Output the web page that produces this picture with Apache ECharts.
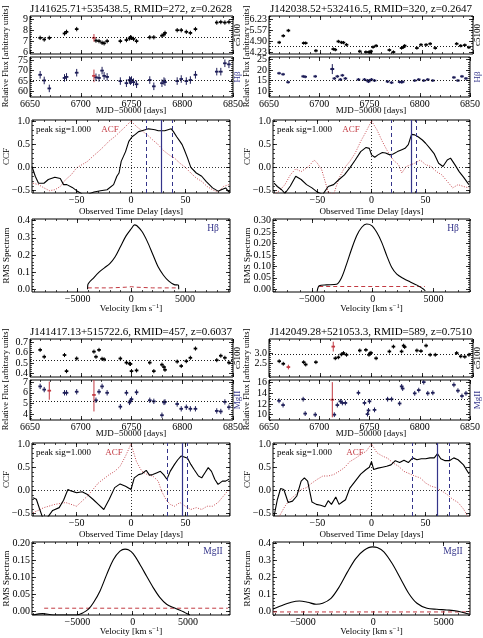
<!DOCTYPE html>
<html>
<head>
<meta charset="utf-8">
<script src="https://cdn.jsdelivr.net/npm/echarts@6/dist/echarts.min.js"></script>
<style>
  html, body { margin: 0; padding: 0; background: #fff; }
  #main { width: 483px; height: 638px; }
</style>
</head>
<body>
<div id="main"></div>
<script>
// ---- names ----
var qsoName = ['J141625.71+535438.5, RMID=272, z=0.2628', 'J142038.52+532416.5, RMID=320, z=0.2647',
               'J141417.13+515722.6, RMID=457, z=0.6037', 'J142049.28+521053.3, RMID=589, z=0.7510'];
var lineName = ['H\u03b2', 'H\u03b2', 'MgII', 'MgII'];

// ---- light curves (MJD-50000) ----
var mjd = [6660, 6664, 6669, 6684, 6686, 6696, 6713, 6715, 6718, 6721, 6723, 6726, 6739, 6745, 6748, 6749, 6750,
           6752, 6755, 6768, 6772, 6780, 6782, 6783, 6795, 6799, 6804, 6808, 6813, 6834, 6838, 6842, 6846];

var cont272 = [7.3, 7.15, 7.3, 7.7, 7.85, 8.1, null, 7.05, 7.0, 6.85, 6.8, 7.0, 7.0, 7.1, 7.25, 7.35, 7.3,
               7.2, 7.0, 7.35, 7.35, 7.5, 7.6, 7.75, 8.0, 8.0, 7.85, 7.75, 8.1, 8.7, 8.75, 8.7, 8.75];
var line272 = [68, 65.3, 61.5, 66.5, 67, 69, null, 66.8, 66.5, 70, 67.5, 67, 65, 64, 65.5, 65, 65.5,
               64.5, 63.5, 65.5, 62.5, 64, 65, 64.5, 65, 66, 65, 65.5, 68, 69.5, 69.5, 73.5, 73];
var cont320 = [4.81, 5.21, 5.53, 4.77, 4.77, 4.31, 4.41, 4.37, 4.87, 4.81, 4.80, 4.67, 4.27, 4.23, 4.23, 4.21, 4.27,
               4.53, 4.61, 4.35, 4.23, 4.47, 4.53, 4.61, 4.47, 4.67, 4.67, 4.73, 4.47, 4.73, 4.61, 4.65, 4.51];
var line320 = [18.5, 18, 14.2, 17, 16.8, 17, 20.5, 16, 17, 15.5, 17.5, 16, 15.5, 15.5, 15, 14.5, 15,
               15.5, 15, 14.5, 14, 14.3, 14.2, 14.4, 15, 15.5, 15, 15.5, 15, 16.5, 15, 17, 16];
var cont457 = [0.627, 0.56, null, 0.577, 0.42, 0.543, 0.61, 0.56, 0.627, 0.54, 0.535, null, 0.543, 0.503, 0.493, 0.49, 0.42,
               null, 0.427, 0.503, 0.42, 0.483, 0.46, 0.433, 0.513, 0.47, 0.517, 0.55, 0.64, 0.527, 0.57, 0.55, 0.503];
var line457 = [6.6, 6.3, null, 6.0, 6.0, 6.1, null, 5.3, 6.1, 6.6, null, 6.0, 4.7, 6.0, 5.1, 5.25, 5.4,
               null, 6.05, 5.3, 5.2, 3.9, 5.1, 5.15, 4.95, 4.5, 4.65, 4.5, 4.5, 4.3, 4.25, 5.15, 4.65];
var cont589 = [2.6, 2.47, null, 2.55, 2.43, 2.55, null, 2.75, 2.8, 2.95, 3.02, 2.93, 3.15, 3.18, 2.93, 3.0, 3.03,
               null, 2.75, 3.1, 3.35, 3.1, 3.4, 3.33, 3.15, 3.12, 3.4, 2.93, 2.93, 3.02, 2.85, 2.83, 2.93];
var line589 = [12.6, 11.8, null, 12.9, 10.2, 10.0, null, 10.0, 11.8, 12.5, 12.2, 12.2, 14.1, 12.2, 10.1, 10.8, 12.5,
               null, 10.9, 12.9, 12.9, 12.1, 15.3, 14.9, 14.0, 14.6, 16.1, 14.0, 14.1, 15.6, 14.5, 13.5, 14.0];

// typical error of each light curve
var errCont = [0.2, 0.1, 0.02, 0.1];
var errLine = [1.8, 0.7, 0.25, 0.45];
var lcMeanCont = [7.36, 4.57, 0.527, 2.97];
var lcMeanLine = [65.5, 15.0, 5.25, 12.9];

// flagged epochs [mjd, flux, err]
var flagCont272 = [[6713, 7.3, 0.35]];
var flagLine272 = [[6713, 67.5, 3.0]];
var wideLine320 = [[6713, 20.5, 2.4]];
var flagLine457 = [[6669, 6.2, 0.85], [6713, 5.8, 1.55]];
var flagCont589 = [[6669, 2.3, 0.12], [6713, 3.35, 0.25]];
var flagLine589 = [[6713, 12.8, 3.3]];

// ---- CCF / ACF ----
var ccfLag272 = [-91, -88, -85, -80, -76, -70, -65, -62, -59, -54, -50, -45, -40, -34, -28, -22, -16, -13, -11, -9, -5, -2, 1, 4, 7, 10,
                 13, 16, 19, 22, 25, 28, 31, 34, 37, 39, 42, 45, 47, 49, 52, 55, 60, 65, 69, 75, 80, 83, 87, 90];
var ccf272 = [0.02, -0.19, -0.34, -0.34, -0.26, -0.21, -0.24, -0.37, -0.37, -0.43, -0.5, -0.57, -0.58, -0.53, -0.5, -0.48, -0.37, -0.19,
              -0.12, 0.13, 0.34, 0.56, 0.66, 0.71, 0.77, 0.79, 0.81, 0.83, 0.82, 0.81, 0.79, 0.79, 0.79, 0.81, 0.83, 0.77, 0.66, 0.56,
              0.49, 0.38, 0.2, 0.0, -0.12, -0.19, -0.3, -0.44, -0.51, -0.48, -0.44, -0.53];
var acfLag272 = [-90, -85, -80, -75, -70, -65, -60, -55, -50, -45, -40, -35, -30, -25, -20, -15, -10, -5, 0, 5, 10, 15, 20, 25, 30,
                 35, 40, 45, 50, 55, 60, 65, 70, 75, 80, 85, 90];
var acf272 = [-0.34, -0.37, -0.44, -0.5, -0.48, -0.41, -0.26, -0.16, -0.01, 0.06, 0.13, 0.24, 0.34, 0.45, 0.57, 0.66, 0.77, 0.88, 1.0,
              0.88, 0.79, 0.7, 0.59, 0.49, 0.36, 0.27, 0.2, 0.09, 0.0, -0.12, -0.23, -0.3, -0.41, -0.48, -0.53, -0.41, -0.37];

var ccfLag320 = [-90, -87, -83, -80, -75, -70, -65, -60, -55, -50, -45, -40, -35, -30, -25, -20, -15, -10, -5, -2, 0, 3, 6, 10, 13,
                 17, 20, 24, 28, 31, 34, 37, 40, 43, 47, 50, 54, 58, 62, 66, 70, 73, 77, 81, 85, 90];
var ccf320 = [-0.34, -0.41, -0.48, -0.56, -0.4, -0.19, -0.26, -0.37, -0.44, -0.53, -0.58, -0.41, -0.37, -0.26, -0.16, -0.01, 0.16,
              0.34, 0.43, 0.41, 0.27, 0.22, 0.27, 0.32, 0.31, 0.27, 0.29, 0.34, 0.38, 0.41, 0.49, 0.71, 0.7, 0.66, 0.59, 0.52, 0.41,
              0.29, 0.09, 0.02, 0.16, 0.2, 0.06, -0.09, -0.21, -0.37];
var acfLag320 = [-90, -85, -80, -75, -70, -65, -58, -53, -50, -46, -40, -35, -30, -25, -20, -15, -10, -5, 0, 5, 10, 15, 20, 25, 28,
                 32, 40, 45, 50, 55, 60, 65, 70, 75, 80, 85, 90];
var acf320 = [-0.58, -0.5, -0.37, -0.16, -0.03, -0.09, 0.02, 0.16, 0.09, -0.05, -0.53, -0.58, -0.23, -0.01, 0.13, 0.31, 0.56, 0.77, 1.0,
              0.81, 0.56, 0.34, 0.16, 0.06, -0.12, 0.02, 0.09, 0.16, 0.06, 0.02, -0.09, -0.16, -0.3, -0.44, -0.37, -0.41, -0.44];

var ccfLag457 = [-90, -87, -84, -81, -77, -72, -66, -62, -58, -55, -50, -45, -40, -35, -30, -25, -20, -15, -10, -5, 0, 3, 7, 10, 14,
                 17, 20, 24, 27, 30, 33, 36, 40, 43, 46, 49, 52, 55, 58, 62, 65, 68, 71, 74, 77, 80, 84, 87, 90];
var ccf457 = [-0.16, -0.19, -0.4, -0.6, -0.59, -0.43, -0.37, -0.21, 0.02, -0.01, -0.05, -0.03, -0.09, -0.19, -0.3, -0.41, -0.19, 0.06,
              0.14, 0.09, 0.02, 0.27, 0.34, 0.36, 0.43, 0.33, 0.34, 0.38, 0.41, 0.34, 0.24, 0.41, 0.56, 0.66, 0.74, 0.72, 0.69, 0.56,
              0.45, 0.31, 0.27, 0.38, 0.49, 0.41, 0.24, 0.13, 0.2, 0.2, 0.24];
var acfLag457 = [-90, -80, -70, -60, -50, -40, -30, -20, -15, -10, -5, 0, 5, 10, 15, 20, 25, 28, 32, 36, 40, 45, 50, 55, 60, 65, 70,
                 75, 80, 85, 90];
var acf457 = [-0.48, -0.37, -0.3, -0.26, -0.34, -0.12, 0.16, 0.34, 0.41, 0.52, 0.74, 1.0, 0.62, 0.41, 0.34, 0.31, 0.2, -0.01, -0.19,
              -0.3, -0.34, -0.26, -0.34, -0.41, -0.37, -0.41, -0.34, -0.34, -0.26, -0.12, 0.02];

var ccfLag589 = [-90, -87, -84, -81, -77, -73, -69, -65, -62, -59, -55, -51, -47, -43, -40, -37, -33, -30, -27, -24, -20, -15, -10, -5,
                 -2, 0, 2, 6, 10, 14, 18, 22, 26, 30, 34, 38, 42, 46, 50, 54, 58, 61, 64, 68, 72, 76, 80, 85, 90];
var ccf589 = [-0.55, -0.2, 0.04, 0.02, -0.26, -0.23, -0.12, 0.2, 0.27, 0.2, -0.25, -0.3, -0.32, -0.35, -0.22, -0.3, -0.14, -0.3, -0.25,
              -0.2, 0.05, 0.2, 0.35, 0.45, 0.5, 0.62, 0.45, 0.48, 0.5, 0.52, 0.55, 0.64, 0.6, 0.65, 0.6, 0.7, 0.66, 0.68, 0.68, 0.7,
              0.7, 0.79, 0.68, 0.64, 0.64, 0.7, 0.66, 0.55, 0.36];
var acfLag589 = [-90, -85, -80, -75, -70, -65, -60, -55, -50, -45, -40, -35, -30, -25, -20, -15, -10, -5, 0, 5, 10, 15, 20, 25, 30,
                 35, 40, 45, 50, 55, 60, 65, 70, 75, 80, 85, 90];
var acf589 = [-0.6, -0.55, -0.34, -0.19, -0.09, 0.02, 0.06, 0.16, 0.24, 0.31, 0.31, 0.34, 0.41, 0.49, 0.62, 0.69, 0.77, 0.84, 1.0,
              0.81, 0.74, 0.69, 0.59, 0.52, 0.41, 0.36, 0.31, 0.27, 0.16, 0.09, 0.06, -0.01, -0.09, -0.19, -0.26, -0.4, -0.6];

// lag measurements [lower, centroid, upper] (days)
var lags272 = [14, 28, 38];
var lags320 = [18, 37, 41];
var lags457 = [33, 47, 52];
var lags589 = [38, 61, 72];

// ---- RMS spectra (km/s) ----
var rmsVel272 = [-4070, -4050, -3500, -3000, -2500, -2000, -1500, -1000, -500, 0, 300, 500, 1000, 1500, 2000, 2500, 3000, 3500,
                 4000, 4400, 4420];
var rms272 = [0.0, 0.025, 0.067, 0.10, 0.125, 0.15, 0.19, 0.25, 0.31, 0.353, 0.376, 0.372, 0.337, 0.278, 0.204, 0.131, 0.082,
              0.047, 0.027, 0.024, 0.0];
var errVel272 = [-4050, -2000, -500, 0, 500, 2000, 4400];
var rmsErr272 = [0.008, 0.008, 0.012, 0.015, 0.012, 0.008, 0.008];

var rmsVel320 = [-4570, -4400, -3800, -2975, -2560, -2150, -1735, -1320, -900, -500, -80, 330, 740, 1160, 1570, 1980, 2530, 3085,
                 3640, 4190, 4320];
var rms320 = [-0.01, 0.015, 0.019, 0.022, 0.051, 0.11, 0.176, 0.234, 0.271, 0.285, 0.278, 0.249, 0.205, 0.146, 0.095, 0.066, 0.047,
              0.032, 0.018, 0.0, -0.007];
var errVel320 = [-4400, 4300];
var rmsErr320 = [0.012, 0.012];

var rmsVel457 = [-9000, -8130, -7170, -5060, -4460, -4000, -3550, -2950, -2350, -1750, -1145, -690, -390, 60, 660, 1265, 1870, 2470,
                 3070, 3675, 4280, 4730, 5180];
var rms457 = [-0.012, -0.008, -0.012, -0.012, -0.005, 0.005, 0.024, 0.059, 0.107, 0.151, 0.176, 0.182, 0.18, 0.168, 0.137, 0.102,
              0.068, 0.039, 0.0195, 0.0098, 0.002, -0.005, -0.012];
var errVel457 = [-8000, 8600];
var rmsErr457 = [0.008, 0.008];

var rmsVel589 = [-7130, -6540, -5835, -5250, -4660, -4070, -3600, -3010, -2420, -1835, -1250, -660, -70, 280, 750, 1340, 1930, 2520,
                 3100, 3810, 4520, 5220, 5930, 6870];
var rms589 = [0.016, 0.035, 0.055, 0.0625, 0.055, 0.043, 0.049, 0.078, 0.146, 0.234, 0.3125, 0.361, 0.381, 0.377, 0.352, 0.283, 0.195,
              0.107, 0.049, 0.0195, 0.0137, 0.0098, 0.004, -0.016];
var errVel589 = [-7130, 6870];
var rmsErr589 = [-0.002, -0.002];

// ---- tick labels ----
var lcTicksX = [6650, 6700, 6750, 6800, 6850];
var contTicks = [[6, 7, 8, 9], [4.23, 4.90, 5.57, 6.23], [0.4, 0.5, 0.6, 0.7], [2.0, 2.5, 3.0, 3.5]];
var lineTicks = [[60, 65, 70, 75], [10, 15, 20, 25], [4, 5, 6, 7], [10, 12, 14, 16]];
var ccfTicksX = [-50, 0, 50];
var ccfTicksY = [-0.5, 0.0, 0.5, 1.0];
var rmsTicksX = [-5000, 0, 5000];
var rmsTicksY = [[0, 0.1, 0.2, 0.3, 0.4], [0, 0.05, 0.1, 0.15, 0.2, 0.25, 0.3], [0, 0.05, 0.1, 0.15, 0.2], [0, 0.1, 0.2, 0.3, 0.4]];

// ---- axis ranges ----
var contRange = [[5.82, 9.3], [4.11, 6.41], [0.363, 0.733], [1.79, 3.74]];
var lineRange = [[57.4, 76.5], [7.1, 26.3], [3.45, 7.2], [9.0, 16.5]];
var rmsRangeX = [[-9250, 9200], [-8200, 8000], [-9100, 8800], [-7130, 6870]];
var rmsRangeY = [[-0.016, 0.41], [-0.012, 0.307], [-0.012, 0.203], [-0.02, 0.41]];

var FONT = '"Liberation Serif", "DejaVu Serif", serif';
var NAVY = '#34348a';
var RED = '#c23a42';
var LINEPT = '#1e1e58';

var grids = [], xAxes = [], yAxes = [], series = [], texts = [];

// minor tick positions anchored on a major tick
function steps(lo, hi, d, anchor) {
  var out = [], v;
  if (!d) return out;
  for (v = anchor; v >= lo - 1e-9; v -= d) out.push(+v.toFixed(6));
  for (v = anchor + d; v <= hi + 1e-9; v += d) out.push(+v.toFixed(6));
  return out;
}
function fmt(dec) {
  return function (v) { return (+v).toFixed(dec).replace('-', '\u2212'); };
}

function axisPair(list, g, sides, range, major, minor, dec, showLabel) {
  // major ticks (longer) on both sides + minor ticks (shorter) on both sides
  var idx = list.length;
  var minors = steps(range[0], range[1], minor, major[0]);
  sides.forEach(function (pos, k) {
    list.push({ type: 'value', gridIndex: g, position: pos, min: range[0], max: range[1],
      axisLine: { show: false, onZero: false }, splitLine: { show: false },
      axisTick: { show: true, inside: true, length: 4, customValues: major, lineStyle: { color: '#000', width: 0.8 } },
      axisLabel: { show: k === 0 && showLabel, customValues: major, formatter: fmt(dec), margin: 2,
        color: '#000', fontFamily: FONT, fontSize: 10 } });
  });
  if (minors.length) {
    sides.forEach(function (pos) {
      list.push({ type: 'value', gridIndex: g, position: pos, min: range[0], max: range[1],
        axisLine: { show: false, onZero: false }, splitLine: { show: false }, axisLabel: { show: false },
        axisTick: { show: true, inside: true, length: 2, customValues: minors, lineStyle: { color: '#000', width: 0.7 } } });
    });
  }
  return idx;
}

function addPanel(box, xr, yr, xMaj, xMin, yMaj, yMin, xDec, yDec, showX) {
  var g = grids.length;
  grids.push({ left: box[0], top: box[1], width: box[2] - box[0], height: box[3] - box[1],
    show: true, borderColor: '#000', borderWidth: 1, backgroundColor: 'transparent' });
  var xi = axisPair(xAxes, g, ['bottom', 'top'], xr, xMaj, xMin, xDec, showX);
  var yi = axisPair(yAxes, g, ['left', 'right'], yr, yMaj, yMin, yDec, true);
  return { x: xi, y: yi };
}

function errBar(params, api) {
  var x = api.value(0), y = api.value(1), e = api.value(2);
  var c = api.coord([x, y]), lo = api.coord([x, y - e]), hi = api.coord([x, y + e]);
  var col = api.visual('color');
  return { type: 'group', children: [
    { type: 'line', shape: { x1: c[0], y1: lo[1], x2: c[0], y2: hi[1] }, style: { stroke: col, lineWidth: 1 } },
    { type: 'line', shape: { x1: c[0] - 1.8, y1: c[1], x2: c[0] + 1.8, y2: c[1] }, style: { stroke: col, lineWidth: 1.8 } }
  ] };
}

function points(ax, data, color) {
  series.push({ type: 'custom', xAxisIndex: ax.x, yAxisIndex: ax.y, renderItem: errBar, clip: true,
    itemStyle: { color: color }, data: data, silent: true, z: 3 });
}

function marks(ax, lines) {
  series.push({ type: 'line', xAxisIndex: ax.x, yAxisIndex: ax.y, data: [], silent: true,
    markLine: { silent: true, symbol: ['none', 'none'], label: { show: false }, animation: false, data: lines } });
}

function curve(ax, xs, ys, color, width, type, smooth) {
  series.push({ type: 'line', xAxisIndex: ax.x, yAxisIndex: ax.y, showSymbol: false, silent: true, clip: true,
    smooth: smooth || false, data: xs.map(function (x, i) { return [x, ys[i]]; }),
    lineStyle: { color: color, width: width, type: type }, z: type === 'solid' ? 4 : 3 });
}

function text(x, y, str, size, color, align, rot, rich) {
  texts.push({ type: 'text', x: x, y: y, rotation: rot || 0, silent: true,
    style: { text: str, fontFamily: FONT, fontSize: size, fill: color || '#000', align: align || 'center',
      verticalAlign: 'middle', rich: rich } });
}

var colL = { lc: [30, 233], pan: [32, 230], mid: 131, ylab: 6, side: 238 };
var colR = { lc: [269, 473], pan: [273, 470], mid: 371, ylab: 247, side: 478 };
var rowT = { lc1: [16, 54], lc2: [57, 97], ccf: [120, 193], rms: [219, 292] };
var rowB = { lc1: [339, 377], lc2: [380, 420], ccf: [443, 516], rms: [542, 615] };

var conts = [cont272, cont320, cont457, cont589];
var lines = [line272, line320, line457, line589];
var flagsC = [flagCont272, [], [], flagCont589];
var flagsL = [flagLine272, [], flagLine457, flagLine589];
var ccfs = [[ccfLag272, ccf272, acfLag272, acf272, lags272], [ccfLag320, ccf320, acfLag320, acf320, lags320],
            [ccfLag457, ccf457, acfLag457, acf457, lags457], [ccfLag589, ccf589, acfLag589, acf589, lags589]];
var rmss = [[rmsVel272, rms272, errVel272, rmsErr272], [rmsVel320, rms320, errVel320, rmsErr320],
            [rmsVel457, rms457, errVel457, rmsErr457], [rmsVel589, rms589, errVel589, rmsErr589]];
var contMinor = [0.2, 0.1675, 0.02, 0.1], lineMinor = [1, 1, 0.2, 0.5], contDec = [0, 2, 1, 1];
var rmsMinorY = [0.02, 0.01, 0.01, 0.02], rmsDec = [1, 2, 2, 1];

for (var q = 0; q < 4; q++) {
  var col = (q % 2 === 0) ? colL : colR;
  var row = (q < 2) ? rowT : rowB;

  // continuum light curve
  var a1 = addPanel([col.lc[0], row.lc1[0], col.lc[1], row.lc1[1]], [6650, 6850], contRange[q],
    lcTicksX, 10, contTicks[q], contMinor[q], 0, contDec[q], false);
  marks(a1, [{ yAxis: lcMeanCont[q], lineStyle: { type: [1, 2], color: '#000', width: 0.9 } }]);
  var pc = [];
  mjd.forEach(function (t, i) { if (conts[q][i] != null) pc.push([t, conts[q][i], errCont[q]]); });
  points(a1, pc, '#000');
  if (flagsC[q].length) points(a1, flagsC[q], RED);

  // line light curve
  var a2 = addPanel([col.lc[0], row.lc2[0], col.lc[1], row.lc2[1]], [6650, 6850], lineRange[q],
    lcTicksX, 10, lineTicks[q], lineMinor[q], 0, 0, true);
  marks(a2, [{ yAxis: lcMeanLine[q], lineStyle: { type: [1, 2], color: '#000', width: 0.9 } }]);
  var pl = [];
  mjd.forEach(function (t, i) { if (lines[q][i] != null) pl.push([t, lines[q][i], errLine[q]]); });
  points(a2, pl, LINEPT);
  if (q === 1) points(a2, wideLine320, LINEPT);
  if (flagsL[q].length) points(a2, flagsL[q], RED);

  // CCF
  var c = ccfs[q];
  var a3 = addPanel([col.pan[0], row.ccf[0], col.pan[1], row.ccf[1]], [-91, 91], [-0.55, 1.02],
    ccfTicksX, 10, ccfTicksY, 0.1, 0, 1, true);
  marks(a3, [
    { yAxis: 0, lineStyle: { type: [1, 2], color: '#000', width: 0.8 } },
    { xAxis: 0, lineStyle: { type: [1, 2], color: '#000', width: 0.8 } },
    { xAxis: c[4][0], lineStyle: { type: [4, 3], color: NAVY, width: 1 } },
    { xAxis: c[4][1], lineStyle: { type: 'solid', color: NAVY, width: 1.2 } },
    { xAxis: c[4][2], lineStyle: { type: [4, 3], color: NAVY, width: 1 } }
  ]);
  curve(a3, c[2], c[3], RED, 0.9, [1, 1.5]);
  curve(a3, c[0], c[1], '#000', 1.1, 'solid');

  // RMS spectrum
  var r = rmss[q];
  var a4 = addPanel([col.pan[0], row.rms[0], col.pan[1], row.rms[1]], rmsRangeX[q], rmsRangeY[q],
    rmsTicksX, 1000, rmsTicksY[q], rmsMinorY[q], 0, rmsDec[q], true);
  curve(a4, r[2], r[3], RED, 1, [4, 3]);
  curve(a4, r[0], r[1], '#000', 1.1, 'solid', 0.3);

  // texts
  text(col.mid, row.lc1[0] - 6.5, qsoName[q], 11);
  text(col.ylab, (row.lc1[0] + row.lc2[1]) / 2, 'Relative Flux [arbitrary units]', 8.5, '#000', 'center', Math.PI / 2);
  text(col.side, (row.lc1[0] + row.lc1[1]) / 2, 'c5100', 9, '#000', 'center', Math.PI / 2);
  text(col.side, (row.lc2[0] + row.lc2[1]) / 2, lineName[q], 9, NAVY, 'center', Math.PI / 2);
  text(col.mid, row.lc2[1] + 14, 'MJD\u221250000 [days]', 9);
  text(col.ylab + 1, (row.ccf[0] + row.ccf[1]) / 2, 'CCF', 9, '#000', 'center', Math.PI / 2);
  text(col.pan[0] + 4, row.ccf[0] + 10, 'peak sig=1.000', 9, '#000', 'left');
  text(col.pan[0] + ((q === 2 || q === 3) ? 82 : 78), row.ccf[0] + 10, 'ACF', 9, RED);
  text((col.pan[0] + col.pan[1]) / 2, row.ccf[1] + 18.5, 'Observed Time Delay [days]', 9);
  text(col.ylab + 1, (row.rms[0] + row.rms[1]) / 2, 'RMS Spectrum', 9, '#000', 'center', Math.PI / 2);
  text(col.pan[1] - 17, row.rms[0] + 9, lineName[q], 9.5, NAVY);
  text((col.pan[0] + col.pan[1]) / 2, row.rms[1] + 16.5, 'Velocity [km s{s|\u22121}]', 9, '#000', 'center', 0,
    { s: { fontFamily: FONT, fontSize: 6.5, verticalAlign: 'top', padding: [0, 0, 5, 0] } });
}

var chart = echarts.init(document.getElementById('main'));
chart.setOption({
  animation: false,
  backgroundColor: '#fff',
  grid: grids,
  xAxis: xAxes,
  yAxis: yAxes,
  series: series,
  graphic: texts
});
</script>
</body>
</html>
